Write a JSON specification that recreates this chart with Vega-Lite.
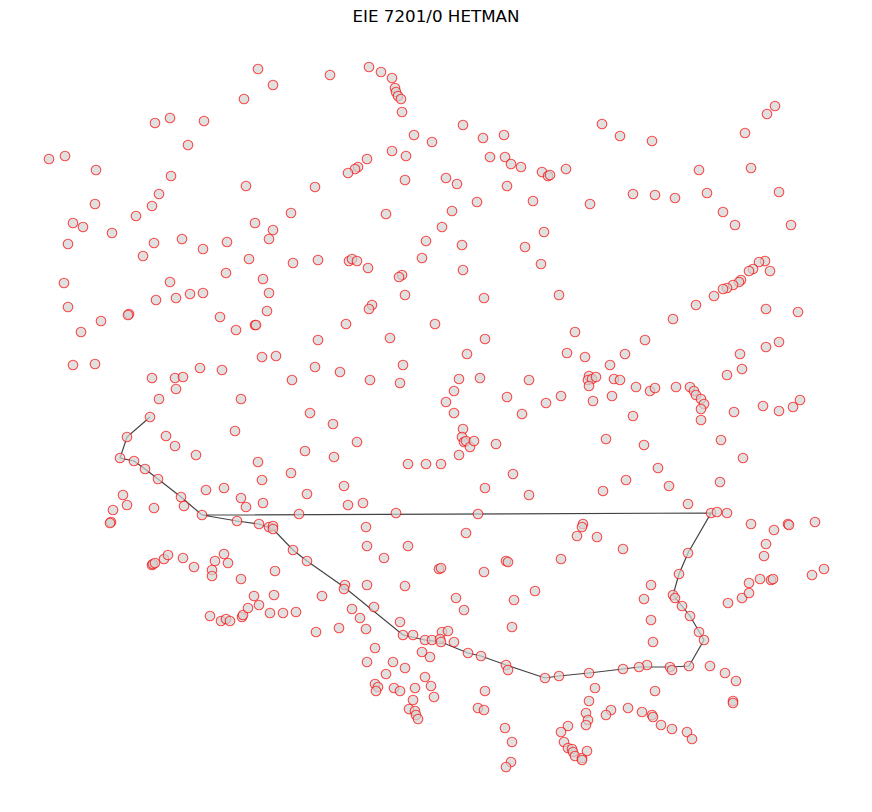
{
"$schema":"https://vega.github.io/schema/vega-lite/v6.json",
"width":872,"height":812,"autosize":{"type":"none"},"padding":0,
"config":{"view":{"stroke":null}},
"title":{"text":"EIE 7201/0 HETMAN","fontSize":16.7,"font":"DejaVu Sans","fontWeight":"normal","color":"#000","frame":"group","anchor":"middle","offset":-26},
"datasets":{
"path":[{"o":1,"x":150,"y":417},{"o":2,"x":127,"y":437},{"o":3,"x":120,"y":458},{"o":4,"x":134,"y":461},{"o":5,"x":145,"y":469},{"o":6,"x":158,"y":479},{"o":7,"x":181,"y":497},{"o":8,"x":202,"y":515},{"o":9,"x":237,"y":521},{"o":10,"x":259,"y":524},{"o":11,"x":273,"y":529},{"o":12,"x":293,"y":550},{"o":13,"x":307,"y":561},{"o":14,"x":344,"y":587},{"o":15,"x":403,"y":635},{"o":16,"x":425,"y":640},{"o":17,"x":441,"y":642},{"o":18,"x":468,"y":653},{"o":19,"x":481,"y":656},{"o":20,"x":506,"y":665},{"o":21,"x":545,"y":678},{"o":22,"x":559,"y":676},{"o":23,"x":589,"y":673},{"o":24,"x":623,"y":669},{"o":25,"x":639,"y":667},{"o":26,"x":670,"y":667},{"o":27,"x":689,"y":666},{"o":28,"x":704,"y":640},{"o":29,"x":690,"y":616},{"o":30,"x":682,"y":606},{"o":31,"x":673,"y":595},{"o":32,"x":679,"y":574},{"o":33,"x":688,"y":553},{"o":34,"x":711,"y":513},{"o":35,"x":202,"y":515}],
"pts":[
{"x":258,"y":69},{"x":273,"y":85},{"x":244,"y":99},{"x":155,"y":123},{"x":170,"y":118},{"x":204,"y":121},{"x":188,"y":145},{"x":49,"y":159},{"x":65,"y":156},{"x":96,"y":170},{"x":171,"y":176},{"x":159,"y":194},{"x":152,"y":206},{"x":95,"y":204},{"x":136,"y":216},{"x":73,"y":223},{"x":83,"y":227},{"x":112,"y":233},{"x":246,"y":186},{"x":255,"y":223},{"x":273,"y":230},
{"x":330,"y":75},{"x":369,"y":67},{"x":381,"y":72},{"x":392,"y":78},{"x":395,"y":88},{"x":396,"y":92},{"x":398,"y":96},{"x":401,"y":99},{"x":402,"y":112},{"x":414,"y":135},{"x":432,"y":142},{"x":463,"y":125},{"x":483,"y":138},{"x":504,"y":135},{"x":392,"y":151},{"x":406,"y":156},{"x":367,"y":159},{"x":358,"y":167},{"x":355,"y":169},{"x":348,"y":173},{"x":490,"y":157},{"x":505,"y":157},{"x":511,"y":164},{"x":521,"y":167},{"x":542,"y":172},{"x":548,"y":176},{"x":550,"y":175},{"x":446,"y":178},{"x":457,"y":184},{"x":507,"y":186},{"x":405,"y":180},{"x":315,"y":187},{"x":533,"y":201},{"x":477,"y":202},{"x":452,"y":211},{"x":386,"y":214},{"x":442,"y":227},{"x":291,"y":213},
{"x":602,"y":124},{"x":620,"y":136},{"x":652,"y":141},{"x":775,"y":106},{"x":767,"y":114},{"x":745,"y":133},{"x":566,"y":169},{"x":590,"y":204},{"x":699,"y":170},{"x":751,"y":168},{"x":633,"y":194},{"x":655,"y":195},{"x":675,"y":198},{"x":707,"y":193},{"x":779,"y":192},{"x":723,"y":212},{"x":735,"y":225},{"x":791,"y":225},
{"x":68,"y":244},{"x":154,"y":243},{"x":182,"y":239},{"x":203,"y":249},{"x":227,"y":242},{"x":269,"y":239},{"x":143,"y":256},{"x":249,"y":259},{"x":293,"y":263},{"x":64,"y":283},{"x":226,"y":273},{"x":170,"y":282},{"x":263,"y":279},{"x":269,"y":293},{"x":156,"y":300},{"x":176,"y":298},{"x":190,"y":294},{"x":203,"y":293},{"x":68,"y":307},{"x":129,"y":314},{"x":128,"y":315},{"x":101,"y":321},{"x":81,"y":332},{"x":267,"y":311},{"x":220,"y":317},{"x":236,"y":330},{"x":255,"y":325},{"x":256,"y":325},{"x":73,"y":365},{"x":95,"y":364},{"x":262,"y":357},{"x":276,"y":356},{"x":152,"y":378},{"x":175,"y":378},{"x":183,"y":377},{"x":176,"y":389},{"x":200,"y":368},{"x":222,"y":370},{"x":292,"y":380},{"x":159,"y":399},{"x":241,"y":399},
{"x":318,"y":260},{"x":349,"y":261},{"x":352,"y":259},{"x":357,"y":261},{"x":368,"y":268},{"x":426,"y":241},{"x":462,"y":245},{"x":422,"y":258},{"x":463,"y":270},{"x":525,"y":247},{"x":541,"y":264},{"x":544,"y":232},{"x":402,"y":275},{"x":399,"y":277},{"x":405,"y":295},{"x":372,"y":305},{"x":369,"y":309},{"x":484,"y":298},{"x":346,"y":324},{"x":435,"y":324},{"x":318,"y":340},{"x":390,"y":338},{"x":485,"y":339},{"x":467,"y":354},{"x":403,"y":365},{"x":315,"y":367},{"x":340,"y":372},{"x":370,"y":380},{"x":400,"y":383},{"x":459,"y":379},{"x":480,"y":378},{"x":529,"y":380},{"x":454,"y":391},{"x":446,"y":402},{"x":507,"y":397},{"x":546,"y":403},{"x":310,"y":413},{"x":454,"y":413},{"x":522,"y":414},
{"x":559,"y":295},{"x":765,"y":261},{"x":759,"y":262},{"x":770,"y":271},{"x":753,"y":269},{"x":749,"y":271},{"x":741,"y":280},{"x":739,"y":282},{"x":733,"y":285},{"x":727,"y":288},{"x":723,"y":289},{"x":714,"y":296},{"x":696,"y":305},{"x":673,"y":319},{"x":766,"y":309},{"x":798,"y":312},{"x":575,"y":332},{"x":645,"y":340},{"x":567,"y":353},{"x":585,"y":357},{"x":625,"y":354},{"x":610,"y":365},{"x":740,"y":354},{"x":766,"y":347},{"x":779,"y":342},{"x":589,"y":376},{"x":588,"y":380},{"x":592,"y":379},{"x":596,"y":377},{"x":589,"y":386},{"x":614,"y":379},{"x":620,"y":380},{"x":636,"y":387},{"x":650,"y":391},{"x":655,"y":388},{"x":676,"y":387},{"x":690,"y":387},{"x":694,"y":391},{"x":696,"y":395},{"x":701,"y":399},{"x":704,"y":404},{"x":701,"y":409},{"x":727,"y":375},{"x":742,"y":369},{"x":561,"y":396},{"x":593,"y":401},{"x":612,"y":396},{"x":763,"y":406},{"x":779,"y":411},{"x":793,"y":407},{"x":800,"y":400},{"x":734,"y":412},
{"x":150,"y":417},{"x":127,"y":437},{"x":120,"y":458},{"x":134,"y":461},{"x":145,"y":469},{"x":158,"y":479},{"x":181,"y":497},{"x":184,"y":506},{"x":202,"y":515},{"x":166,"y":436},{"x":175,"y":446},{"x":196,"y":455},{"x":235,"y":431},{"x":258,"y":462},{"x":262,"y":480},{"x":291,"y":473},{"x":206,"y":490},{"x":224,"y":488},{"x":241,"y":498},{"x":246,"y":507},{"x":263,"y":503},{"x":123,"y":495},{"x":127,"y":505},{"x":113,"y":510},{"x":111,"y":522},{"x":110,"y":523},{"x":154,"y":508},{"x":237,"y":521},{"x":259,"y":524},{"x":269,"y":527},{"x":273,"y":526},{"x":273,"y":529},{"x":293,"y":550},{"x":299,"y":514},{"x":152,"y":565},{"x":153,"y":564},{"x":155,"y":563},{"x":164,"y":559},{"x":168,"y":555},{"x":183,"y":558},{"x":194,"y":567},{"x":215,"y":561},{"x":224,"y":554},{"x":228,"y":563},{"x":212,"y":570},{"x":212,"y":576},{"x":241,"y":579},{"x":275,"y":571},
{"x":333,"y":424},{"x":357,"y":442},{"x":305,"y":451},{"x":334,"y":457},{"x":463,"y":429},{"x":462,"y":437},{"x":464,"y":442},{"x":466,"y":441},{"x":470,"y":447},{"x":474,"y":441},{"x":459,"y":455},{"x":496,"y":444},{"x":408,"y":464},{"x":426,"y":464},{"x":441,"y":464},{"x":513,"y":474},{"x":307,"y":494},{"x":344,"y":486},{"x":348,"y":505},{"x":363,"y":503},{"x":485,"y":488},{"x":529,"y":495},{"x":396,"y":513},{"x":478,"y":514},{"x":366,"y":527},{"x":466,"y":533},{"x":367,"y":546},{"x":408,"y":546},{"x":307,"y":561},{"x":384,"y":558},{"x":439,"y":569},{"x":441,"y":568},{"x":484,"y":572},{"x":506,"y":561},{"x":508,"y":562},{"x":345,"y":585},{"x":367,"y":585},{"x":405,"y":586},
{"x":633,"y":416},{"x":701,"y":420},{"x":606,"y":439},{"x":644,"y":445},{"x":721,"y":440},{"x":743,"y":458},{"x":658,"y":468},{"x":626,"y":480},{"x":603,"y":491},{"x":669,"y":486},{"x":720,"y":482},{"x":688,"y":504},{"x":711,"y":513},{"x":717,"y":512},{"x":727,"y":513},{"x":583,"y":524},{"x":582,"y":527},{"x":577,"y":536},{"x":597,"y":537},{"x":561,"y":559},{"x":623,"y":549},{"x":751,"y":524},{"x":774,"y":530},{"x":788,"y":524},{"x":789,"y":525},{"x":815,"y":522},{"x":766,"y":544},{"x":764,"y":556},{"x":688,"y":553},{"x":679,"y":574},{"x":651,"y":585},{"x":749,"y":583},{"x":760,"y":579},{"x":771,"y":580},{"x":773,"y":579},{"x":812,"y":575},{"x":824,"y":569},
{"x":210,"y":616},{"x":221,"y":621},{"x":226,"y":619},{"x":230,"y":621},{"x":242,"y":617},{"x":243,"y":615},{"x":248,"y":608},{"x":254,"y":596},{"x":274,"y":595},{"x":259,"y":605},{"x":270,"y":613},{"x":283,"y":613},
{"x":322,"y":596},{"x":344,"y":589},{"x":296,"y":612},{"x":352,"y":609},{"x":374,"y":607},{"x":360,"y":618},{"x":316,"y":632},{"x":339,"y":628},{"x":366,"y":629},{"x":400,"y":622},{"x":403,"y":635},{"x":413,"y":635},{"x":425,"y":640},{"x":432,"y":640},{"x":442,"y":632},{"x":448,"y":631},{"x":440,"y":639},{"x":441,"y":642},{"x":454,"y":642},{"x":456,"y":598},{"x":464,"y":610},{"x":514,"y":600},{"x":535,"y":591},{"x":512,"y":627},{"x":422,"y":652},{"x":430,"y":657},{"x":468,"y":653},{"x":481,"y":656},{"x":506,"y":665},{"x":508,"y":670},{"x":545,"y":678},{"x":375,"y":648},{"x":367,"y":662},{"x":393,"y":662},{"x":405,"y":668},{"x":386,"y":674},{"x":425,"y":677},{"x":375,"y":684},{"x":378,"y":687},{"x":376,"y":691},{"x":394,"y":688},{"x":400,"y":691},{"x":415,"y":688},{"x":431,"y":686},{"x":434,"y":697},{"x":413,"y":700},{"x":409,"y":709},{"x":415,"y":711},{"x":416,"y":715},{"x":418,"y":719},{"x":485,"y":691},{"x":478,"y":708},{"x":484,"y":710},{"x":505,"y":728},{"x":512,"y":742},{"x":511,"y":762},{"x":506,"y":767},
{"x":644,"y":599},{"x":673,"y":595},{"x":675,"y":598},{"x":682,"y":606},{"x":690,"y":616},{"x":699,"y":632},{"x":704,"y":640},{"x":728,"y":603},{"x":742,"y":598},{"x":749,"y":593},{"x":651,"y":620},{"x":653,"y":642},{"x":689,"y":666},{"x":670,"y":667},{"x":672,"y":670},{"x":647,"y":665},{"x":639,"y":667},{"x":623,"y":669},{"x":589,"y":673},{"x":559,"y":676},{"x":710,"y":666},{"x":725,"y":673},{"x":736,"y":681},{"x":733,"y":701},{"x":733,"y":703},{"x":655,"y":691},{"x":595,"y":688},{"x":589,"y":701},{"x":586,"y":713},{"x":588,"y":720},{"x":586,"y":725},{"x":611,"y":710},{"x":606,"y":715},{"x":628,"y":708},{"x":642,"y":712},{"x":652,"y":715},{"x":653,"y":717},{"x":661,"y":725},{"x":672,"y":729},{"x":687,"y":732},{"x":692,"y":739},{"x":568,"y":726},{"x":561,"y":732},{"x":564,"y":742},{"x":568,"y":748},{"x":572,"y":749},{"x":573,"y":752},{"x":575,"y":756},{"x":582,"y":758},{"x":582,"y":760},{"x":587,"y":751}
]},
"layer":[
{"data":{"name":"path"},"mark":{"type":"line","color":"#444444","strokeWidth":1.2},
"encoding":{"x":{"field":"x","type":"quantitative","scale":{"domain":[0,872],"nice":false,"zero":false},"axis":null},
"y":{"field":"y","type":"quantitative","scale":{"domain":[0,812],"nice":false,"zero":false,"reverse":true},"axis":null},
"order":{"field":"o","type":"quantitative"}}},
{"data":{"name":"pts"},"mark":{"type":"point","shape":"circle","filled":false,"fill":"#d3d3d3","fillOpacity":0.7,"stroke":"#ff0000","strokeOpacity":0.7,"strokeWidth":1.1,"size":92},
"encoding":{"x":{"field":"x","type":"quantitative","scale":{"domain":[0,872],"nice":false,"zero":false},"axis":null},
"y":{"field":"y","type":"quantitative","scale":{"domain":[0,812],"nice":false,"zero":false,"reverse":true},"axis":null}}}
]
}
